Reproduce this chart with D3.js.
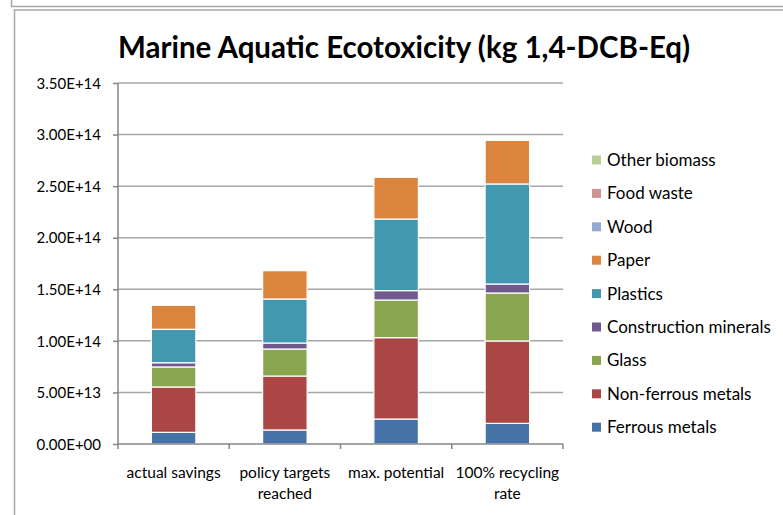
<!DOCTYPE html>
<html>
<head>
<meta charset="utf-8">
<script src="https://cdn.jsdelivr.net/npm/d3@7/dist/d3.min.js"></script>
<style>
  html, body { margin: 0; padding: 0; background: #fff; }
  svg { display: block; }
  text { font-family: Lato, "Open Sans", sans-serif; fill: #000; }
</style>
</head>
<body>
<svg id="chart" width="783" height="515"></svg>
<script>
// Scenario categories (x axis)
const categories = ["actual savings", "policy targets reached", "max. potential", "100% recycling rate"];
const categoryLines = [["actual savings"], ["policy targets", "reached"], ["max. potential"], ["100% recycling", "rate"]];

// Stack order, bottom to top
const seriesNames = ["Ferrous metals", "Non-ferrous metals", "Glass", "Construction minerals",
                     "Plastics", "Paper", "Wood", "Food waste", "Other biomass"];

// Savings per material (kg 1,4-DCB-Eq), one value per scenario
const ferrous      = [1.13e13, 1.36e13, 2.42e13, 2.00e13];
const nonFerrous   = [4.40e13, 5.23e13, 7.89e13, 7.99e13];
const glass        = [1.94e13, 2.62e13, 3.65e13, 4.65e13];
const construction = [0.41e13, 0.58e13, 0.91e13, 0.87e13];
const plastics     = [3.24e13, 4.27e13, 6.94e13, 9.70e13];
const paper        = [2.33e13, 2.74e13, 4.05e13, 4.23e13];
const wood         = [0, 0, 0, 0];
const foodWaste    = [0, 0, 0, 0];
const otherBiomass = [0, 0, 0, 0];

const yTickValues = [0, 5e13, 1e14, 1.5e14, 2e14, 2.5e14, 3e14, 3.5e14];

const colors = ["#4572A7", "#AA4643", "#89A54E", "#71588F", "#4198AF",
                "#DB843D", "#93A9CF", "#D19392", "#B9CD96"];

const seriesValues = [ferrous, nonFerrous, glass, construction, plastics, paper, wood, foodWaste, otherBiomass];
const table = categories.map((c, i) => {
  const row = { category: c };
  seriesNames.forEach((s, k) => { row[s] = seriesValues[k][i]; });
  return row;
});

const svg = d3.select("#chart");
const frameColor = "#a6a6a6";

// Frames
svg.append("path").attr("d", "M11.5,0 V6.5 H783")
  .attr("fill", "none").attr("stroke", frameColor).attr("stroke-width", 1.5);
svg.append("path").attr("d", "M14.5,515 V10 H783")
  .attr("fill", "none").attr("stroke", frameColor).attr("stroke-width", 1.5);

const plot = { left: 118, right: 563, top: 83, bottom: 444 };

const x = d3.scaleBand().domain(categories).range([plot.left, plot.right]).padding(0);
const y = d3.scaleLinear().domain([0, 3.5e14]).range([plot.bottom, plot.top]);
const barWidth = x.bandwidth() * 0.4;

// Gridlines
svg.append("g").selectAll("line").data(yTickValues.slice(1)).join("line")
  .attr("x1", plot.left).attr("x2", plot.right)
  .attr("y1", d => y(d)).attr("y2", d => y(d))
  .attr("stroke", "#a6a6a6").attr("stroke-width", 1.5);

// Stacked bars
const stack = d3.stack().keys(seriesNames)(table);
const bars = svg.append("g");
stack.forEach((layer, k) => {
  bars.append("g").attr("fill", colors[k])
    .selectAll("rect").data(layer.filter(d => d[1] - d[0] > 0)).join("rect")
    .attr("x", d => x(d.data.category) + (x.bandwidth() - barWidth) / 2)
    .attr("width", barWidth)
    .attr("y", d => y(d[1]))
    .attr("height", d => y(d[0]) - y(d[1]))
    .attr("stroke", "#fff").attr("stroke-width", 1.2);
});

// Y axis
const yAxis = d3.axisLeft(y).tickValues(yTickValues).tickSize(5).tickPadding(12)
  .tickFormat(d => {
    const s = d.toExponential(2).toUpperCase(); // e.g. 3.50E+14
    return s.replace(/E\+(\d)$/, "E+0$1");
  });
const gy = svg.append("g").attr("transform", `translate(${plot.left},0)`).call(yAxis);
gy.select(".domain").attr("stroke", "#868686").attr("stroke-width", 1.5).attr("d", `M0,${plot.top}V${plot.bottom}`);
gy.selectAll(".tick line").attr("stroke", "#868686").attr("stroke-width", 1.5);
gy.selectAll(".tick text").style("font-size", "15px").attr("fill", "#000").attr("dy", "0.35em");

// X axis
const gx = svg.append("g").attr("transform", `translate(0,${plot.bottom})`);
gx.append("line").attr("x1", plot.left).attr("x2", plot.right)
  .attr("stroke", "#868686").attr("stroke-width", 1.5);
const boundaries = categories.map(c => x(c)).concat([plot.right]);
gx.selectAll("line.tick").data(boundaries).join("line").attr("class", "tick")
  .attr("x1", d => d).attr("x2", d => d).attr("y1", 0).attr("y2", 5)
  .attr("stroke", "#868686").attr("stroke-width", 1.5);
gx.selectAll("text.cat").data(categories).join("text").attr("class", "cat")
  .attr("x", d => x(d) + x.bandwidth() / 2)
  .attr("y", 34)
  .attr("text-anchor", "middle")
  .style("font-size", "15.5px")
  .each(function(d, i) {
    d3.select(this).selectAll("tspan").data(categoryLines[i]).join("tspan")
      .attr("x", x(d) + x.bandwidth() / 2)
      .attr("dy", (t, j) => j === 0 ? 0 : 21)
      .text(t => t);
  });

// Title
svg.append("text").attr("x", 404).attr("y", 58).attr("text-anchor", "middle")
  .style("font-size", "29.5px").style("font-weight", "bold")
  .text("Marine Aquatic Ecotoxicity (kg 1,4-DCB-Eq)");

// Legend, top entry is the last series
const legend = svg.append("g");
const legendItems = seriesNames.slice().reverse();
legendItems.forEach((name, i) => {
  const k = seriesNames.indexOf(name);
  const cy = 160 + i * 33.4;
  legend.append("rect").attr("x", 592).attr("y", cy - 4.5).attr("width", 9).attr("height", 9)
    .attr("fill", colors[k]);
  legend.append("text").attr("x", 607).attr("y", cy).attr("dy", "0.35em")
    .style("font-size", "17px").text(name);
});
</script>
</body>
</html>
